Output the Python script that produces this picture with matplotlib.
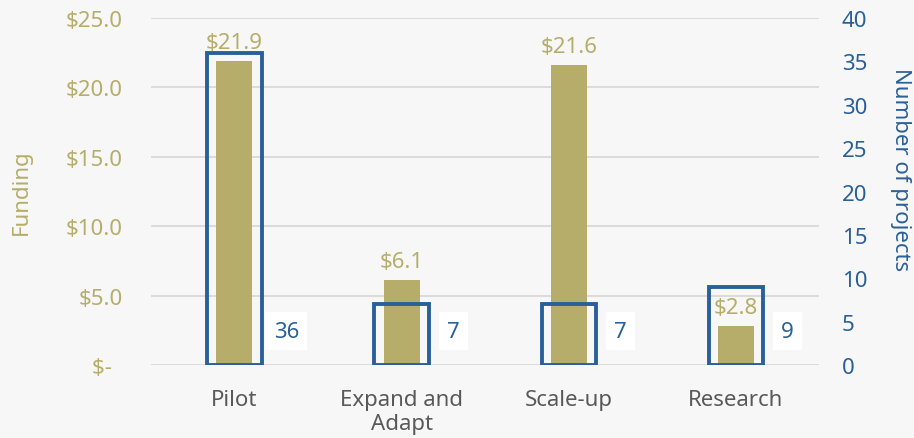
import matplotlib.pyplot as plt

categories = ["Pilot", "Expand and\nAdapt", "Scale-up", "Research"]
funding = [21.9, 6.1, 21.6, 2.8]
projects = [36, 7, 7, 9]

olive = "#b5ad69"
blue = "#2a6099"
bg = "#f7f7f7"
fs = 16

plt.rcParams['font.family'] = ['Noto Sans', 'DejaVu Sans']

fig = plt.figure(figsize=(9.14, 4.39), dpi=100, facecolor=bg)
ax = fig.add_axes([0.165, 0.1663, 0.7315, 0.7904])
ax.set_facecolor(bg)
x = list(range(len(categories)))

# funding bars
ax.bar(x, funding, width=0.215, color=olive, zorder=2)
ax.set_xlim(-0.5, 3.5)
ax.set_ylim(0, 25)
ax.set_yticks([0, 5, 10, 15, 20, 25])
ax.set_yticklabels(["$-  ", "$5.0", "$10.0", "$15.0", "$20.0", "$25.0"])
ax.yaxis.grid(True, color="#d9d9d9", linewidth=1.3, zorder=0)
ax.set_axisbelow(True)
ax.tick_params(axis='y', length=0, labelsize=fs, labelcolor=olive, pad=20)
ax.tick_params(axis='x', length=0, labelsize=fs, labelcolor="#595959", pad=17)
ax.set_xticks(x)
ax.set_xticklabels(categories, linespacing=1.2)
ax.set_ylabel("Funding", color=olive, fontsize=fs, va="center")
ax.yaxis.set_label_coords(-0.194, 0.5)
for s in ax.spines.values():
    s.set_visible(False)
for xi, v in zip(x, funding):
    ax.annotate(f"${v}", (xi, v), xytext=(0, 6), textcoords="offset points",
                ha="center", va="bottom", color=olive, fontsize=fs)

# project count outline bars
ax2 = ax.twinx()
ax2.bar(x, projects, width=0.325, facecolor="none", edgecolor=blue,
        linewidth=2.8, zorder=3)
ax2.set_ylim(0, 40)
ax2.set_yticks(range(0, 41, 5))
ax2.tick_params(axis='y', length=0, labelsize=fs, labelcolor=blue, pad=16)
ax2.set_ylabel("Number of projects", color=blue, fontsize=fs, rotation=270,
               va="center")
ax2.yaxis.set_label_coords(1.122, 0.565)
for s in ax2.spines.values():
    s.set_visible(False)
for xi, v in zip(x, projects):
    ax2.text(xi + 0.31, 3.9, str(v), ha="center", va="center", color=blue,
             fontsize=fs, bbox=dict(facecolor="white", edgecolor="none",
                                    pad=6))

fig.savefig("out.png", dpi=100, facecolor=bg)
